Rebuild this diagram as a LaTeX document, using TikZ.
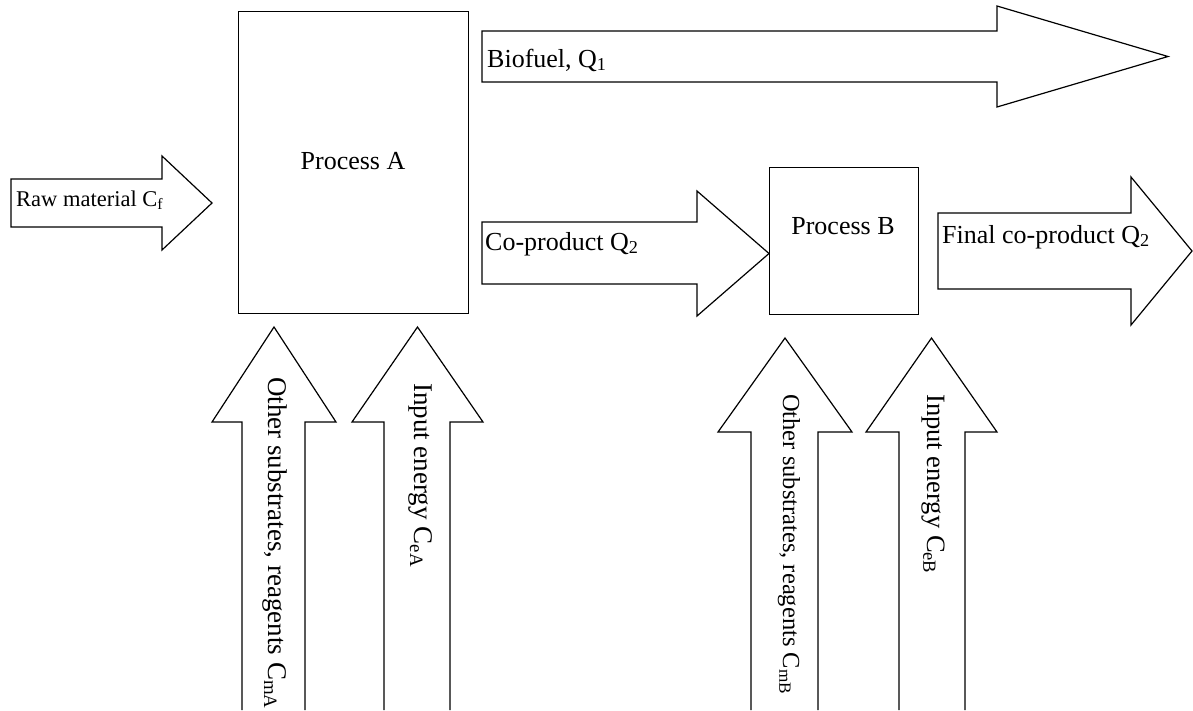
\documentclass[tikz,border=0pt]{standalone}
\usepackage{fontspec}
\setmainfont{Liberation Serif}

\tikzset{
  flow/.style={draw=black, line width=1.2pt, miter limit=20, fill=white},
  procbox/.style={draw=black, line width=1.2pt, inner sep=0pt, anchor=north west},
  lbl/.style={inner sep=0pt, font=\fontsize{26}{30}\selectfont},
}

\begin{document}
\begin{tikzpicture}[x=1pt,y=-1pt]

\useasboundingbox (0,0) rectangle (1193,710);

% process boxes
\node[procbox, minimum width=230pt, minimum height=302pt] (procA) at (238,11) {};
\node[procbox, minimum width=149pt, minimum height=147pt] (procB) at (769,167) {};

% horizontal block arrows: left, shaft top, shaft bottom, head base, head top, head bottom, tip
\foreach \l/\t/\b/\h/\ht/\hb/\tip in {11/179/227/162/156/250/212,
                                      482/31/82/997/6/107/1168,
                                      482/222/284/697/191/316/769,
                                      938/213/289/1131/177/325/1192}
{
  \draw[flow] (\l,\t) -- (\h,\t) -- (\h,\ht) -- (\tip,{(\ht+\hb)/2})
    -- (\h,\hb) -- (\h,\b) -- (\l,\b) -- cycle;
}

% vertical block arrows (open at the bottom edge)
\foreach \l/\r/\hl/\hr/\b/\t in {242/305/212/336/422/327,
                                 384/450/352/483/422/327,
                                 751/818/718/852/432/338,
                                 899/965/866/997/432/338}
{
  \draw[flow] (\l,710) -- (\l,\b) -- (\hl,\b) -- ({(\hl+\hr)/2},\t)
    -- (\hr,\b) -- (\r,\b) -- (\r,710);
}

% labels
\node[lbl, anchor=base] (procAtext) at (353,169) {Process A};
\node[lbl, anchor=base] (procBtext) at (843,234) {Process B};
\node[lbl, anchor=base west, font=\fontsize{22.5}{27}\selectfont] (raw) at (16,206) {Raw material C\textsubscript{f}};
\node[lbl, anchor=base west] (biofuel) at (487,67) {Biofuel, Q\textsubscript{1}};
\node[lbl, anchor=base west] (coprod) at (485,250) {Co-product Q\textsubscript{2}};
\node[lbl, anchor=base west] (finalcoprod) at (942,243) {Final co-product Q\textsubscript{2}};

\node[lbl, anchor=base west, rotate=-90, font=\fontsize{27}{32}\selectfont] (otherA) at (268,377) {Other substrates, reagents C\textsubscript{mA}};
\node[lbl, anchor=base west, rotate=-90, font=\fontsize{27}{32}\selectfont] (energyA) at (414,383) {Input energy C\textsubscript{eA}};
\node[lbl, anchor=base west, rotate=-90, font=\fontsize{24.5}{29}\selectfont] (otherB) at (783,394) {Other substrates, reagents C\textsubscript{mB}};
\node[lbl, anchor=base west, rotate=-90, font=\fontsize{26.5}{31}\selectfont] (energyB) at (927,394) {Input energy C\textsubscript{eB}};

\end{tikzpicture}
\end{document}
